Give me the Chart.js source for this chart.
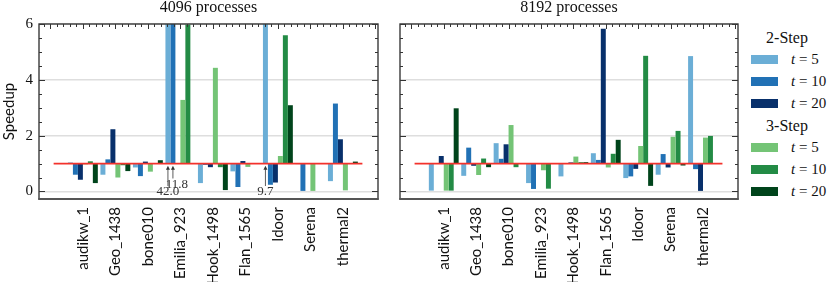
<!DOCTYPE html>
<html>
<head>
<meta charset="utf-8">
<script src="https://cdn.jsdelivr.net/npm/chart.js@4"></script>
<style>
  body { margin: 0; background: #fff; }
  #wrap { position: relative; width: 831px; height: 282px; overflow: hidden; }
  canvas { position: absolute; top: 0; }
  #legend { position: absolute; left: 751px; top: 27px; width: 80px; font-family: "Liberation Serif", serif; color: #111; }
  .row { height: 21.9px; display: flex; align-items: center; white-space: nowrap; }
  .head { font-size: 16px; justify-content: center; width: 72px; }
  .sw { width: 27px; height: 9px; margin-right: 13px; flex: none; }
  .lab { font-size: 15px; }
</style>
</head>
<body>
<div id="wrap">
  <canvas id="p4096" width="390" height="282" style="left:0"></canvas>
  <canvas id="p8192" width="360" height="282" style="left:390px"></canvas>
  <div id="legend"></div>
</div>
<script>
const matrices = ['audikw_1', 'Geo_1438', 'bone010', 'Emilia_923', 'Hook_1498', 'Flan_1565', 'ldoor', 'Serena', 'thermal2'];
const methods = ['2-Step', '3-Step'];
const tValues = [5, 10, 20];
const yTicks = [0, 2, 4, 6];

// speedup, 4096 processes
const two5_4096    = [1.04, 0.60, 0.86, 42.0, 0.30, 0.72, 9.7, 0.98, 0.37];
const two10_4096   = [0.60, 1.15, 0.55, 11.8, 0.95, 0.16, 0.24, 0.02, 3.15];
const two20_4096   = [0.42, 2.23, 1.07, 1.00, 0.87, 1.09, 0.32, 1.00, 1.87];
const three5_4096  = [0.97, 0.50, 0.71, 3.28, 4.43, 0.88, 1.27, 0.02, 0.04];
const three10_4096 = [1.08, 0.94, 1.00, 5.98, 0.87, 1.00, 5.60, 1.00, 1.00];
const three20_4096 = [0.30, 0.73, 1.12, 1.00, 0.05, 1.02, 3.09, 1.00, 1.07];

// speedup, 8192 processes
const two5_8192    = [0.03, 0.56, 1.73, 0.30, 0.54, 1.37, 0.48, 0.60, 4.85];
const two10_8192   = [1.00, 1.57, 1.17, 0.09, 1.00, 1.13, 0.54, 1.34, 0.80];
const two20_8192   = [1.27, 0.92, 1.69, 1.02, 1.04, 5.83, 0.81, 0.86, 0.02];
const three5_8192  = [0.03, 0.59, 2.38, 0.76, 1.25, 0.86, 1.63, 1.96, 1.93];
const three10_8192 = [0.03, 1.18, 0.87, 0.10, 1.05, 1.35, 4.86, 2.17, 1.99];
const three20_8192 = [2.98, 0.87, 1.00, 1.00, 1.05, 1.85, 0.20, 0.93, 1.00];

const blues = ['#6baed6', '#2171b5', '#08306b'];
const greens = ['#74c476', '#238b45', '#00441b'];
const colors = blues.concat(greens);

const serif = 'Liberation Serif';
const sans = 'Lato';

// bars start at speedup 1 and go up or down to the value
function makeDatasets(series) {
  return series.map((vals, k) => ({
    label: methods[Math.floor(k / 3)] + ' t = ' + tValues[k % 3],
    data: vals.map((v, i) => ({ x: i, y: [1, v] })),
    backgroundColor: colors[k],
    borderWidth: 0,
    categoryPercentage: 0.92,
    barPercentage: 1.0
  }));
}

const decorations = {
  id: 'decorations',
  afterDatasetsDraw(chart) {
    const { ctx, chartArea: a, scales: { x, y } } = chart;
    ctx.save();

    // reference line at speedup 1
    ctx.strokeStyle = '#f3322c';
    ctx.lineWidth = 1.8;
    ctx.beginPath();
    ctx.moveTo(x.getPixelForValue(-0.9), y.getPixelForValue(1));
    ctx.lineTo(x.getPixelForValue(8.6), y.getPixelForValue(1));
    ctx.stroke();

    // bars cut off by the axis get an arrow and their value
    ctx.font = '13px "' + serif + '"';
    ctx.textAlign = 'center';
    ctx.textBaseline = 'middle';
    let lastX = -100;
    chart.data.datasets.forEach((ds, di) => {
      const meta = chart.getDatasetMeta(di);
      ds.data.forEach((d, i) => {
        const v = d.y[1];
        if (v <= y.max) return;
        const bx = meta.data[i].x;
        let tx = bx, ty = y.getPixelForValue(-0.02);
        if (bx - lastX < 10) { tx = bx + 4; ty = y.getPixelForValue(0.25); }
        lastX = bx;
        ctx.fillStyle = '#333';
        ctx.fillText(v.toFixed(1), tx, ty);
        const top = y.getPixelForValue(0.92);
        ctx.strokeStyle = '#333';
        ctx.lineWidth = 0.8;
        ctx.beginPath();
        ctx.moveTo(bx, ty - 6);
        ctx.lineTo(bx, top + 3);
        ctx.stroke();
        ctx.beginPath();
        ctx.moveTo(bx, top);
        ctx.lineTo(bx - 2, top + 4);
        ctx.lineTo(bx + 2, top + 4);
        ctx.closePath();
        ctx.fill();
      });
    });

    // inward ticks
    ctx.strokeStyle = '#333';
    ctx.lineWidth = 1;
    const seg = (x1, y1, x2, y2) => { ctx.beginPath(); ctx.moveTo(x1, y1); ctx.lineTo(x2, y2); ctx.stroke(); };
    for (let v = 0; v <= y.max + 1e-9; v += 0.5) {
      const py = Math.round(y.getPixelForValue(v)) + 0.5;
      const len = v % 2 === 0 ? 6 : 3;
      seg(a.left, py, a.left + len, py);
      seg(a.right, py, a.right - len, py);
    }
    for (let k = Math.ceil(x.min * 5); k <= Math.floor(x.max * 5); k++) {
      const px = Math.round(x.getPixelForValue(k / 5)) + 0.5;
      const len = k % 5 === 0 ? 5 : 3;
      seg(px, a.top, px, a.top + len);
    }

    // frame
    ctx.strokeStyle = '#3a3a3a';
    ctx.lineWidth = 1.4;
    ctx.strokeRect(a.left, a.top, a.right - a.left, a.bottom - a.top);
    ctx.strokeStyle = '#555';
    ctx.lineWidth = 2.2;
    seg(a.left - 0.7, a.bottom, a.right + 0.7, a.bottom);
    ctx.restore();
  }
};

function makeChart(id, title, series, showY) {
  new Chart(document.getElementById(id), {
    type: 'bar',
    data: { datasets: makeDatasets(series) },
    options: {
      responsive: false,
      animation: false,
      layout: { padding: { left: 0, right: 12, top: 0, bottom: 0 } },
      scales: {
        x: {
          type: 'linear',
          offset: false,
          bounds: 'data',
          min: -1.35,
          max: 9.08,
          afterBuildTicks: s => { s.ticks = matrices.map((_, i) => ({ value: i })); },
          afterFit: s => { s.height = 83; },
          grid: { display: false, drawTicks: false, offset: false },
          border: { display: false },
          ticks: {
            autoSkip: false,
            minRotation: 90,
            maxRotation: 90,
            padding: 8,
            color: '#111',
            font: { family: sans, size: 15 },
            callback: v => matrices[v]
          }
        },
        y: {
          bounds: 'data',
          min: -0.27,
          max: 6,
          afterBuildTicks: s => { s.ticks = yTicks.map(v => ({ value: v })); },
          afterFit: s => { s.width = showY ? 39 : 10; },
          grid: { color: '#dedede', lineWidth: 1.5, drawTicks: false },
          border: { display: false },
          ticks: {
            display: showY,
            padding: 6,
            color: '#111',
            font: { family: serif, size: 15 }
          },
          title: {
            display: showY,
            text: 'Speedup',
            color: '#111',
            font: { family: sans, size: 15 },
            padding: { top: 0, bottom: 0 }
          }
        }
      },
      plugins: {
        legend: { display: false },
        tooltip: { enabled: false },
        title: {
          display: true,
          text: title,
          fullSize: false,
          color: '#111',
          font: { family: serif, size: 16, weight: 'normal', lineHeight: 1 },
          padding: { top: 0, bottom: 8 }
        }
      }
    },
    plugins: [decorations]
  });
}

makeChart('p4096', '4096 processes',
  [two5_4096, two10_4096, two20_4096, three5_4096, three10_4096, three20_4096], true);
makeChart('p8192', '8192 processes',
  [two5_8192, two10_8192, two20_8192, three5_8192, three10_8192, three20_8192], false);

// legend: one header per method, then one swatch per t
const legend = document.getElementById('legend');
methods.forEach((m, g) => {
  const head = document.createElement('div');
  head.className = 'row head';
  head.textContent = m;
  legend.appendChild(head);
  tValues.forEach((t, k) => {
    const row = document.createElement('div');
    row.className = 'row';
    const sw = document.createElement('span');
    sw.className = 'sw';
    sw.style.background = colors[g * 3 + k];
    const lab = document.createElement('span');
    lab.className = 'lab';
    lab.innerHTML = '<i>t</i>&nbsp;=&nbsp;' + t;
    row.appendChild(sw);
    row.appendChild(lab);
    legend.appendChild(row);
  });
});
</script>
</body>
</html>
